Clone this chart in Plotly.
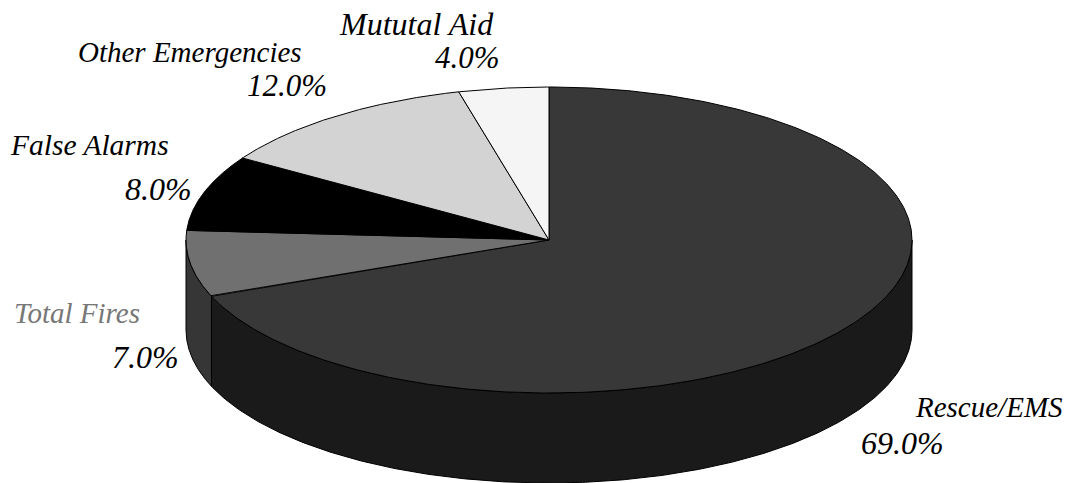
import numpy as np
import plotly.graph_objects as go

# Data
categories = ["Rescue/EMS", "Total Fires", "False Alarms", "Other Emergencies", "Mututal Aid"]
shares = [69.0, 7.0, 8.0, 12.0, 4.0]

# Styles
top_colors = ["#383838", "#707070", "#000000", "#d3d3d3", "#f5f5f5"]
side_colors = ["#1a1a1a", "#363636", "#000000", "#d3d3d3", "#f5f5f5"]
name_colors = ["#000000", "#777777", "#000000", "#000000", "#000000"]
name_pos = [(989, 407), (77, 313), (89, 145), (190, 52), (416, 24)]
pct_pos = [(902, 443), (145, 357), (158, 189), (287, 85), (467, 57)]
name_sizes = [29, 29, 29.5, 29, 32]
pct_sizes = [32, 32, 32, 31, 31]

CX, CY, RX, RY, DEPTH = 549, 240, 363, 153, 90
FONT = "Liberation Serif"


def pt(deg, dy=0.0):
    a = np.radians(deg)
    return CX + RX * np.sin(a), CY + dy - RY * np.cos(a)


fig = go.Figure()
edges = np.concatenate([[0], np.cumsum(shares)]) * 3.6

# Side walls (front half of the pie only: 90 to 270 degrees clockwise from top)
for i in range(len(shares)):
    a0, a1 = max(edges[i], 90), min(edges[i + 1], 270)
    if a1 <= a0:
        continue
    t = np.linspace(a0, a1, 300)
    xt, yt = pt(t)
    xb, yb = pt(t[::-1], DEPTH)
    fig.add_trace(go.Scatter(
        x=np.concatenate([xt, xb, xt[:1]]), y=np.concatenate([yt, yb, yt[:1]]),
        mode="lines", fill="toself", fillcolor=side_colors[i],
        line=dict(color="#000000", width=1), hoverinfo="skip", showlegend=False))

# Top face
for i, name in enumerate(categories):
    t = np.linspace(edges[i], edges[i + 1], 400)
    xa, ya = pt(t)
    fig.add_trace(go.Scatter(
        x=np.concatenate([[CX], xa, [CX]]), y=np.concatenate([[CY], ya, [CY]]),
        mode="lines", fill="toself", fillcolor=top_colors[i], name=name,
        line=dict(color="#000000", width=1), hoverinfo="name", showlegend=False))

# Labels
for i, name in enumerate(categories):
    fig.add_annotation(x=name_pos[i][0], y=name_pos[i][1], text=f"<i>{name}</i>",
                       showarrow=False, xanchor="center", yanchor="middle",
                       font=dict(family=FONT, size=name_sizes[i], color=name_colors[i]))
    fig.add_annotation(x=pct_pos[i][0], y=pct_pos[i][1], text=f"<i>{shares[i]:.1f}%</i>",
                       showarrow=False, xanchor="center", yanchor="middle",
                       font=dict(family=FONT, size=pct_sizes[i], color="#000000"))

fig.update_layout(
    width=1068, height=483, margin=dict(l=0, r=0, t=0, b=0),
    paper_bgcolor="#ffffff", plot_bgcolor="#ffffff", showlegend=False,
    xaxis=dict(range=[0, 1068], visible=False, fixedrange=True),
    yaxis=dict(range=[483, 0], visible=False, fixedrange=True),
)
fig.write_html("out.html", config=dict(displayModeBar=False),
               post_script="document.body.style.margin='0';document.body.style.overflow='hidden';")
